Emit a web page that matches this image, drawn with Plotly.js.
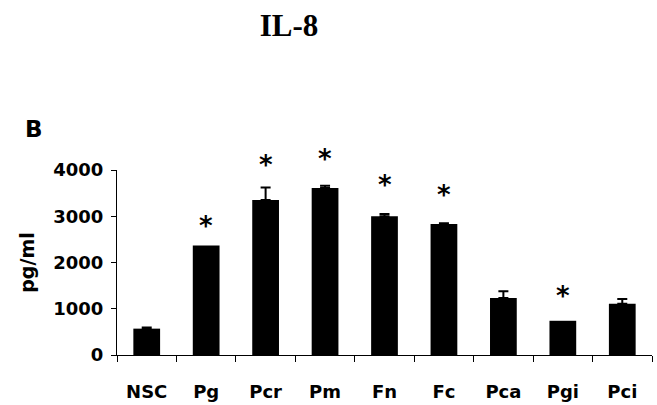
<!DOCTYPE html>
<html>
<head>
<meta charset="utf-8">
<script src="https://cdn.plot.ly/plotly-3.0.1.min.js"></script>
<style>html,body{margin:0;padding:0;background:#fff;}#chart{width:657px;height:405px;}</style>
</head>
<body>
<div id="chart"></div>
<script>
var categories = ["NSC", "Pg", "Pcr", "Pm", "Fn", "Fc", "Pca", "Pgi", "Pci"];
var values = [570, 2370, 3350, 3610, 3000, 2830, 1230, 740, 1110];
var errors = [25, null, 270, 50, 50, 20, 150, null, 100];
var starCategories = ["Pg", "Pcr", "Pm", "Fn", "Fc", "Pgi"];
var starY = [2860, 4180, 4300, 3750, 3530, 1330];
var yTicks = [0, 1000, 2000, 3000, 4000];
var yMax = 4000;

var boldFont = "DejaVu Sans, Arial, sans-serif";

var barTrace = {
  type: "bar",
  x: categories,
  y: values,
  width: 0.45,
  marker: {color: "#000000", line: {width: 0}},
  hoverinfo: "none"
};

var ex = [], ey = [], ee = [];
categories.forEach(function (c, i) {
  if (errors[i] !== null) { ex.push(c); ey.push(values[i]); ee.push(errors[i]); }
});
var errTrace = {
  type: "scatter",
  mode: "markers",
  x: ex, y: ey,
  marker: {size: 0.1, color: "rgba(0,0,0,0)"},
  error_y: {type: "data", array: ee, arrayminus: ee.map(function () { return 0; }), symmetric: false,
            visible: true, color: "#000000", thickness: 2, width: 5},
  hoverinfo: "none",
  cliponaxis: false
};

var annotations = starCategories.map(function (c, i) {
  return {
    x: c, y: starY[i] / yMax, xref: "x", yref: "y domain", text: "*", showarrow: false,
    yanchor: "middle", yshift: -3,
    font: {family: boldFont, size: 26, color: "#000", weight: "bold"}
  };
});
annotations.push({
  xref: "paper", yref: "paper", x: -0.175, y: 1.22, xanchor: "left", yanchor: "middle",
  text: "B", showarrow: false,
  font: {family: boldFont, size: 23, color: "#000", weight: "bold"}
});

var layout = {
  width: 657, height: 405,
  margin: {l: 117, r: 5, t: 170, b: 50},
  paper_bgcolor: "#fff", plot_bgcolor: "#fff",
  showlegend: false,
  title: {
    text: "IL-8", x: 289 / 657, xanchor: "center", y: 1 - 25 / 405, yanchor: "middle",
    font: {family: "Liberation Serif, Times New Roman, serif", size: 31, color: "#000", weight: "bold"}
  },
  xaxis: {
    type: "category", range: [-0.5, 8.5], categoryorder: "array", categoryarray: categories,
    showline: true, linecolor: "#000", linewidth: 1,
    ticks: "outside", ticklen: 6, tickcolor: "#000", tickwidth: 1,
    tickson: "boundaries",
    showgrid: false, zeroline: false,
    tickfont: {family: boldFont, size: 18, color: "#000", weight: "bold"},
    ticklabelstandoff: 20
  },
  yaxis: {
    range: [0, yMax], tickvals: yTicks, ticktext: yTicks.map(String),
    showline: true, linecolor: "#000", linewidth: 1,
    ticks: "outside", ticklen: 5, tickcolor: "#000", tickwidth: 1,
    showgrid: false, zeroline: false,
    tickfont: {family: boldFont, size: 18, color: "#000", weight: "bold"},
    ticklabelstandoff: 4,
    title: {text: "pg/ml", standoff: 13, font: {family: boldFont, size: 19, color: "#000", weight: "bold"}}
  },
  annotations: annotations
};

Plotly.newPlot("chart", [barTrace, errTrace], layout, {displayModeBar: false, staticPlot: true});
</script>
</body>
</html>
